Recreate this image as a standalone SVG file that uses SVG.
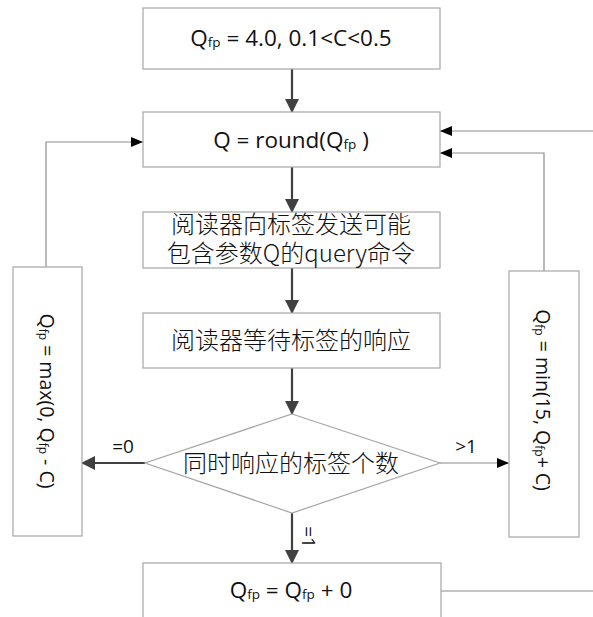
<svg xmlns="http://www.w3.org/2000/svg" width="593" height="617" viewBox="0 0 593 617">
  <style>
    .box { fill: #ffffff; stroke: #a6a6a6; stroke-width: 1.2; }
    .lat { font-family: "Open Sans", "Noto Sans CJK SC", sans-serif; font-size: 22.5px; fill: #111111; }
    .rot { font-family: "Open Sans", sans-serif; font-size: 19.5px; fill: #111111; }
    .cjk { font-family: "Noto Sans CJK SC", sans-serif; font-size: 24px; font-weight: 300; fill: #111111; }
    .sub { font-size: 13.5px; }
    .rot .sub { font-size: 12px; }
    .lbl { font-family: "Open Sans", sans-serif; font-size: 19px; fill: #111111; }
    .flow { stroke: #404040; stroke-width: 2.2; fill: none; }
    .thin { stroke: #8c8c8c; stroke-width: 1.2; fill: none; }
  </style>
  <defs>
    <marker id="headThick" markerUnits="userSpaceOnUse" markerWidth="14" markerHeight="14" viewBox="0 0 14 14" refX="13" refY="7" orient="auto">
      <path d="M0,0 L14,7 L0,14 Z" fill="#404040"/>
    </marker>
    <marker id="headThin" markerUnits="userSpaceOnUse" markerWidth="12" markerHeight="10" viewBox="0 0 12 10" refX="12" refY="5" orient="auto">
      <path d="M0,0 L12,5 L0,10 Z" fill="#000000"/>
    </marker>
  </defs>

  <!-- connectors -->
  <g id="connectors">
    <line class="flow" x1="292" y1="69" x2="292" y2="112" marker-end="url(#headThick)"/>
    <line class="flow" x1="292" y1="167" x2="292" y2="212" marker-end="url(#headThick)"/>
    <line class="flow" x1="292" y1="268" x2="292" y2="313" marker-end="url(#headThick)"/>
    <line class="flow" x1="292" y1="368" x2="292" y2="414" marker-end="url(#headThick)"/>
    <line class="flow" x1="145" y1="463" x2="82" y2="463" marker-end="url(#headThick)"/>
    <line class="flow" x1="292" y1="513" x2="292" y2="563" marker-end="url(#headThick)"/>
    <line class="thin" x1="440" y1="463" x2="509" y2="463" marker-end="url(#headThin)"/>
    <polyline class="thin" points="46,267 46,142 143,142" marker-end="url(#headThin)"/>
    <polyline class="thin" points="544,271 544,153 440,153" marker-end="url(#headThin)"/>
    <line class="thin" x1="593" y1="131" x2="440" y2="131" marker-end="url(#headThin)"/>
    <line class="thin" x1="441" y1="591" x2="593" y2="591"/>
    <text class="lbl" x="123" y="453" text-anchor="middle">=0</text>
    <text class="lbl" x="466" y="453" text-anchor="middle">&gt;1</text>
    <text class="lbl" transform="translate(302,537) rotate(90)" text-anchor="middle">=1</text>
  </g>

  <!-- initial values -->
  <g id="init">
    <rect class="box" x="143" y="8" width="297" height="61"/>
    <text class="lat" x="291" y="46" text-anchor="middle">Q<tspan class="sub" dy="1">fp</tspan><tspan dy="-1"> = 4.0, 0.1&lt;C&lt;0.5</tspan></text>
  </g>

  <!-- round -->
  <g id="round">
    <rect class="box" x="143" y="112" width="297" height="55"/>
    <text class="lat" x="291" y="148" text-anchor="middle">Q = round(Q<tspan class="sub" dy="1">fp</tspan><tspan dy="-1"> )</tspan></text>
  </g>

  <!-- query -->
  <g id="query">
    <rect class="box" x="143" y="212" width="297" height="56"/>
    <text class="cjk" x="291" y="233" text-anchor="middle">阅读器向标签发送可能</text>
    <text class="cjk" x="291" y="262" text-anchor="middle">包含参数Q的query命令</text>
  </g>

  <!-- wait -->
  <g id="wait">
    <rect class="box" x="143" y="313" width="297" height="55"/>
    <text class="cjk" x="291" y="349" text-anchor="middle">阅读器等待标签的响应</text>
  </g>

  <!-- decision -->
  <g id="decision">
    <polygon class="box" points="292,414 440,463 292,513 145,463"/>
    <text class="cjk" x="291" y="472" text-anchor="middle">同时响应的标签个数</text>
  </g>

  <!-- decrease -->
  <g id="decrease">
    <rect class="box" x="13" y="267" width="69" height="269"/>
    <text class="rot" transform="translate(40,401) rotate(90)" text-anchor="middle">Q<tspan class="sub" dy="1">fp</tspan><tspan dy="-1"> = max(0, Q</tspan><tspan class="sub" dy="1">fp</tspan><tspan dy="-1"> - C)</tspan></text>
  </g>

  <!-- increase -->
  <g id="increase">
    <rect class="box" x="509" y="271" width="70" height="266"/>
    <text class="rot" transform="translate(536,400) rotate(90)" text-anchor="middle">Q<tspan class="sub" dy="1">fp</tspan><tspan dy="-1"> = min(15, Q</tspan><tspan class="sub" dy="1">fp</tspan><tspan dy="-1">+ C)</tspan></text>
  </g>

  <!-- keep -->
  <g id="keep">
    <rect class="box" x="143" y="563" width="298" height="70"/>
    <text class="lat" x="291" y="598" text-anchor="middle">Q<tspan class="sub" dy="1">fp</tspan><tspan dy="-1"> = Q</tspan><tspan class="sub" dy="1">fp</tspan><tspan dy="-1"> + 0</tspan></text>
  </g>
</svg>
